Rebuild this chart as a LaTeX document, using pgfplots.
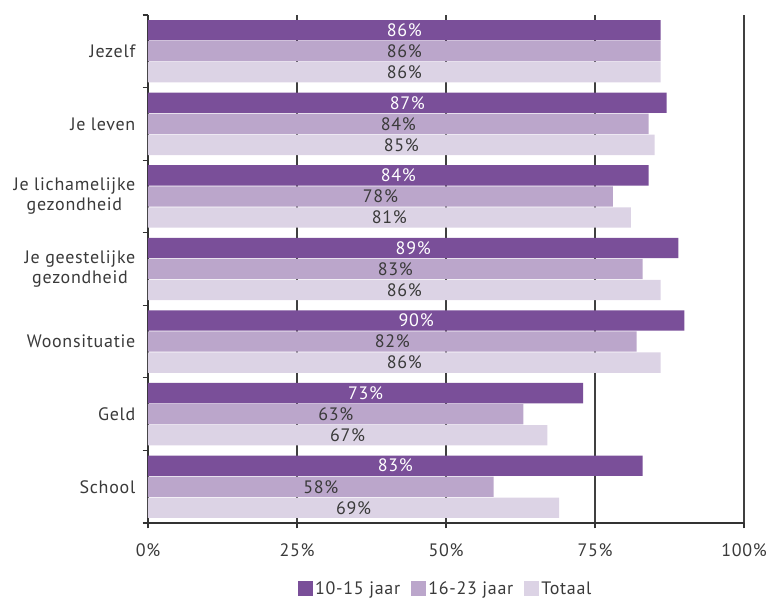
\documentclass[border=0pt]{standalone}
\usepackage{pgfplots}
\pgfplotsset{compat=1.18}
\usepackage{pgfplotstable}
\usepackage{fontspec}
\setmainfont[LetterSpace=4]{PT Sans}
\pgfkeys{/pgf/number format/assume math mode=true}

\definecolor{cA}{HTML}{7A4F99}
\definecolor{cB}{HTML}{BBA6CB}
\definecolor{cC}{HTML}{DCD3E5}
\definecolor{txt}{HTML}{3A3A3A}

% c = category position (0 = top), a = 10-15 jaar, b = 16-23 jaar, t = Totaal
\pgfplotstableread{
c a b t
0 86 86 86
1 87 84 85
2 84 78 81
3 89 83 86
4 90 82 86
5 73 63 67
6 83 58 69
}\data

\begin{document}
\begin{tikzpicture}
\useasboundingbox (0,0) rectangle (580.5pt,449.25pt);
\begin{axis}[
  at={(111pt,57pt)}, anchor=south west,
  scale only axis, width=447pt, height=381pt,
  font=\fontsize{13.5}{15}\selectfont, text=txt,
  /pgf/number format/assume math mode=true,
  xmin=0, xmax=100, ymin=-0.5, ymax=6.5, y dir=reverse,
  axis x line*=bottom, axis y line*=left,
  axis line style={-, black!80, line width=0.9pt},
  tick style={black!80, line width=0.9pt},
  tick align=outside, major tick length=4pt,
  xtick={0,25,50,75,100},
  xticklabels={0\%,25\%,50\%,75\%,100\%},
  xticklabel style={yshift=-8pt},
  xmajorgrids, grid style={black!75, line width=0.9pt},
  ytick={0,...,6},
  yticklabels={Jezelf,Je leven,Je lichamelijke\\gezondheid,Je geestelijke\\gezondheid,Woonsituatie,Geld,School},
  yticklabel style={align=center, xshift=-2pt},
  y tick style={draw=none},
  minor ytick={-0.5,0.5,...,6.5},
  minor tick length=4pt,
  minor y tick style={draw=black!80, line width=0.9pt},
  legend style={at={(0.5,-0.13)}, anchor=center, draw=none, legend columns=-1,
    /tikz/every even column/.append style={column sep=6pt}, font=\fontsize{13.5}{15}\selectfont},
  legend image code/.code={\fill[#1] (0pt,-5pt) rectangle (11pt,6pt);},
  bar width=0.28,
]
\addplot[xbar, bar shift=-0.29, fill=cA, draw=none] table[x=a, y=c] {\data};
\addplot[xbar, bar shift=0, fill=cB, draw=none] table[x=b, y=c] {\data};
\addplot[xbar, bar shift=0.29, fill=cC, draw=none] table[x=t, y=c] {\data};
\legend{10-15 jaar,16-23 jaar,Totaal}

% value labels in the middle of each bar
\addplot[forget plot, only marks, mark=*, mark size=0pt, mark options={draw=none,fill=none},
  point meta=explicit, nodes near coords={\pgfmathprintnumber{\pgfplotspointmeta}\%},
  every node near coord/.append style={anchor=center, text=white}]
  table[x expr=\thisrow{a}/2, y expr=\thisrow{c}-0.29, meta=a] {\data};
\addplot[forget plot, only marks, mark=*, mark size=0pt, mark options={draw=none,fill=none},
  point meta=explicit, nodes near coords={\pgfmathprintnumber{\pgfplotspointmeta}\%},
  every node near coord/.append style={anchor=center, text=txt}]
  table[x expr=\thisrow{b}/2, y=c, meta=b] {\data};
\addplot[forget plot, only marks, mark=*, mark size=0pt, mark options={draw=none,fill=none},
  point meta=explicit, nodes near coords={\pgfmathprintnumber{\pgfplotspointmeta}\%},
  every node near coord/.append style={anchor=center, text=txt}]
  table[x expr=\thisrow{t}/2, y expr=\thisrow{c}+0.29, meta=t] {\data};
\end{axis}
\end{tikzpicture}
\end{document}
